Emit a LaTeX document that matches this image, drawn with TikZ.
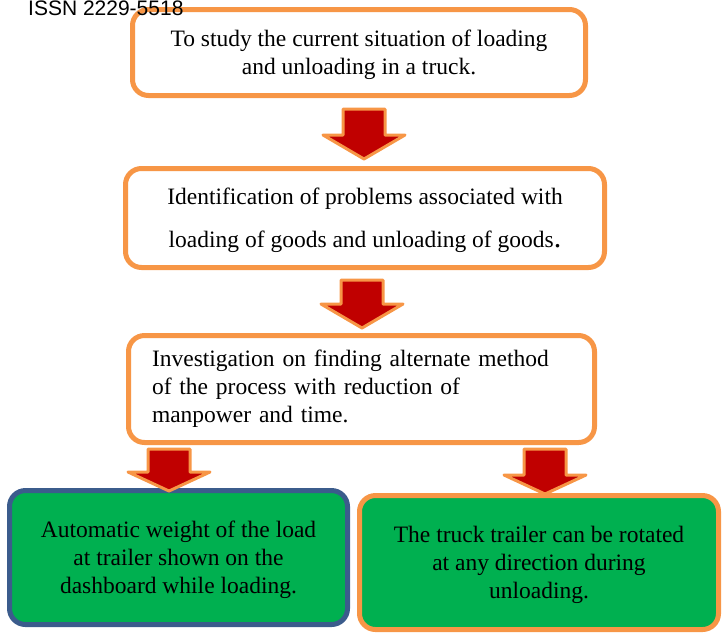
\documentclass[tikz,border=0pt]{standalone}
\usepackage{fontspec}
\setmainfont{Liberation Serif}
\newfontfamily\issnfont{Liberation Sans}
\definecolor{boxorange}{HTML}{F79646}
\definecolor{arrowred}{HTML}{C00000}
\definecolor{boxgreen}{HTML}{00B050}
\definecolor{boxblue}{HTML}{3B5C8C}

\begin{document}
\begin{tikzpicture}[x=1pt,y=-1pt,
	stagebox/.style={draw=boxorange,line width=5pt,rounded corners=16pt,fill=white,align=center,inner sep=0pt,text depth=0pt,font=\fontsize{23.5}{28}\selectfont},
	resultbox/.style={stagebox,fill=boxgreen},
	blockarrow/.style={draw=boxorange,fill=arrowred,line width=3pt,line join=round}]
	\useasboundingbox (0,0) rectangle (722,633);
	\pgfmathsetmacro{\hw}{21}		%half width of arrow shaft
	\pgfmathsetmacro{\hh}{41}		%half width of arrow head

	%stages
	\node[stagebox,minimum width=453pt,minimum height=86pt] (study) at (359,52.5) {To study the current situation of loading\\and unloading in a truck.};
	\node[stagebox,minimum width=479pt,minimum height=99pt] (problems) at (365,218) {Identification of problems associated with\\[15pt]loading of goods and unloading of goods{\fontsize{30}{28}\selectfont.}};
	\node[stagebox,text depth=,minimum width=466pt,minimum height=107pt,text width=419pt,align=left] (method) at (361.5,389) {Investigation on finding alternate method\\of the process with reduction of\\manpower and time.};

	%results
	\node[resultbox,draw=boxblue,minimum width=338pt,minimum height=134pt] (weight) at (178.5,557.5) {Automatic weight of the load\\at trailer shown on the\\dashboard while loading.};
	\node[resultbox,minimum width=359pt,minimum height=134pt] (rotate) at (539,562.5) {The truck trailer can be rotated\\at any direction during\\unloading.};

	%arrows
	\foreach \cx/\ytop/\yneck/\ytip in {364/109/135/159, 362/280/304/328, 169/449/472/491, 545/449/475/494}
		\draw[blockarrow] ({\cx-\hw},\ytop) -- ({\cx+\hw},\ytop) -- ({\cx+\hw},\yneck) -- ({\cx+\hh},\yneck) -- (\cx,\ytip) -- ({\cx-\hh},\yneck) -- ({\cx-\hw},\yneck) -- cycle;

	\node[anchor=base west,inner sep=0pt,font=\issnfont\fontsize{21}{21}\selectfont] (issn) at (28,15) {ISSN 2229-5518};
\end{tikzpicture}
\end{document}
